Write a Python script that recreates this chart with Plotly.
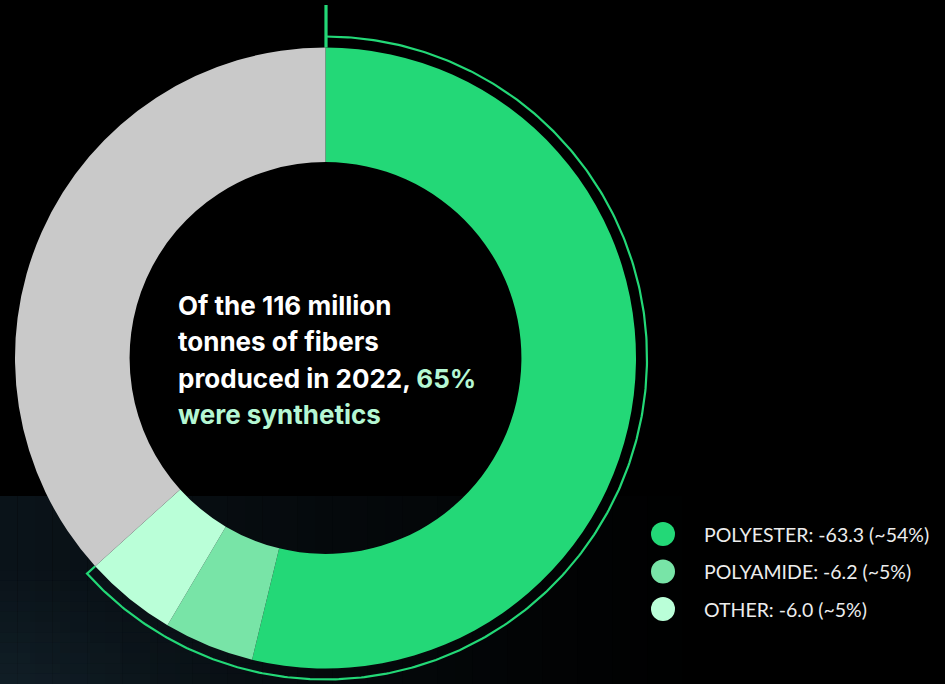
import numpy as np
import plotly.graph_objects as go

# ---------------- data ----------------
slice_labels = ["Polyester", "Polyamide", "Other", "Non-synthetic fibers"]
slice_share = [53.8, 4.7, 4.8, 36.7]          # share of the ring (%)
slice_colors = ["#23D877", "#78E4A7", "#BAFFD8", "#C9C9C9"]

legend_labels = ["POLYESTER: -63.3 (~54%)", "POLYAMIDE: -6.2 (~5%)", "OTHER: -6.0 (~5%)"]
legend_colors = slice_colors[:3]

center_lines = [
    "Of the 116 million",
    "tonnes of fibers",
    "produced in 2022, <span style='color:#B5F7D3'>65%</span>",
    "<span style='color:#B5F7D3'>were synthetics</span>",
]

# ---------------- layout constants ----------------
W, H = 945, 684
CX, CY, R = 325.5, 358.0, 310.5
HOLE = 0.631
ARC_R = 321.5
ACCENT = "#23D877"

fig = go.Figure()

# background texture (dark bluish band at the bottom, fading to the right)
n_strips = 40
for i in range(n_strips):
    x0 = i * 700 / n_strips
    x1 = (i + 1) * 700 / n_strips
    a = 0.75 * (1 - i / n_strips) ** 1.2
    fig.add_shape(type="rect", xref="x", yref="y", x0=x0, x1=x1, y0=496, y1=H,
                  fillcolor=f"rgba(14,26,34,{a:.3f})", line_width=0, layer="below")
for j in range(12):
    y0 = 560 + j * 124 / 12
    for k in range(10):
        xa = k * 30
        fig.add_shape(type="rect", xref="x", yref="y", x0=xa, x1=xa + 30, y0=y0, y1=y0 + 124 / 12,
                      fillcolor=f"rgba(30,52,64,{0.35 * (j / 12) * (1 - k / 10):.3f})",
                      line_width=0, layer="below")

# donut
fig.add_trace(go.Pie(
    labels=slice_labels, values=slice_share, sort=False, direction="clockwise",
    rotation=0, hole=HOLE, textinfo="none", hoverinfo="label+percent",
    marker=dict(colors=slice_colors, line=dict(width=0)),
    domain=dict(x=[(CX - R) / W, (CX + R) / W], y=[(H - CY - R) / H, (H - CY + R) / H]),
    showlegend=False,
))

# outer accent arc spanning the synthetic share
synth_frac = sum(slice_share[:3]) / sum(slice_share)
end_deg = 360 * synth_frac
theta = np.radians(np.linspace(0, end_deg, 400))
ax = CX + ARC_R * np.sin(theta)
ay = CY - ARC_R * np.cos(theta)
te = np.radians(end_deg)
ax = np.append(ax, CX + R * np.sin(te))
ay = np.append(ay, CY - R * np.cos(te))
fig.add_trace(go.Scatter(x=ax, y=ay, mode="lines", line=dict(color=ACCENT, width=2.2),
                         hoverinfo="skip", showlegend=False))
# vertical tick at the top
fig.add_trace(go.Scatter(x=[CX + 0.5, CX + 0.5], y=[5, CY - R], mode="lines",
                         line=dict(color=ACCENT, width=3.2), hoverinfo="skip", showlegend=False))

# legend
leg_y = [534, 571.5, 609]
fig.add_trace(go.Scatter(x=[663] * 3, y=leg_y, mode="markers",
                         marker=dict(size=24, color=legend_colors, line=dict(width=0)),
                         hoverinfo="skip", showlegend=False))
for yy, txt in zip(leg_y, legend_labels):
    fig.add_annotation(x=702, y=yy, xref="x", yref="y", text=txt, showarrow=False,
                       xanchor="left", yanchor="middle",
                       font=dict(family="Lato", size=19.5, color="#EDEDED"))

# center text
line_y = [305, 341.5, 378, 414.5]
for yy, txt in zip(line_y, center_lines):
    fig.add_annotation(x=176, y=yy, xref="x", yref="y", text=f"<b>{txt}</b>", showarrow=False,
                       xanchor="left", yanchor="middle",
                       font=dict(family="Inter", size=26, color="#FFFFFF"))

fig.update_layout(
    width=W, height=H, margin=dict(l=0, r=0, t=0, b=0),
    paper_bgcolor="#000000", plot_bgcolor="rgba(0,0,0,0)",
    xaxis=dict(range=[0, W], visible=False, fixedrange=True),
    yaxis=dict(range=[H, 0], visible=False, fixedrange=True),
    showlegend=False,
)

fig.write_html("out.html")
